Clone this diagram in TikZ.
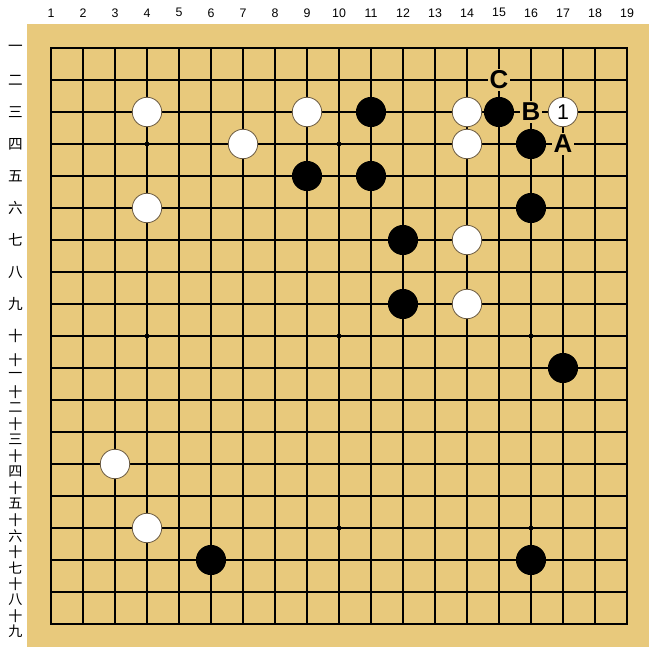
\documentclass[tikz,border=0pt]{standalone}
\usepackage{fontspec}
\setmainfont{Liberation Sans}
\newfontfamily\cjk{Noto Sans CJK SC}
\definecolor{board}{RGB}{232,201,124}
\definecolor{rim}{RGB}{105,88,62}
\tikzset{
  white stone/.style={circle,draw=rim,fill=white,line width=0.7pt,minimum size=0.92cm,inner sep=0pt,font=\fontsize{19}{19}\selectfont},
  black stone/.style={circle,fill=black,minimum size=0.94cm,inner sep=0pt},
  hoshi/.style={circle,fill=black,minimum size=0.15cm,inner sep=0pt},
  letter/.style={fill=board,inner sep=1.5pt,font=\bfseries\fontsize{23}{23}\selectfont},
  collabel/.style={font=\fontsize{11}{11}\selectfont},
  rowlabel/.style={font=\cjk\fontsize{13}{13}\selectfont},
  tenlabel/.style={font=\cjk\fontsize{12.5}{12.5}\selectfont,inner sep=0pt}
}
\begin{document}
\begin{tikzpicture}[x=1cm,y=-1cm]
\useasboundingbox (-0.59375,-0.5) rectangle (19.9375,19.84375);
\fill[board] (0.25,0.25) rectangle (19.6875,19.71875);

% grid
\foreach \i in {1,...,19} {
  \draw[line width=0.9pt] (\i,1) -- (\i,19);
  \draw[line width=0.9pt] (1,\i) -- (19,\i);
}
\draw[line width=2.6pt] (1,1) rectangle (19,19);

% star points
\foreach \x/\y in {4/4,10/4,16/4,4/10,10/10,16/10,4/16,10/16,16/16}
  \node[hoshi] (h\x-\y) at (\x,\y) {};

% coordinates
\foreach \i in {1,...,19}
  \node[collabel] (c\i) at (\i,-0.1) {\i};
\foreach \n [count=\j] in {一,二,三,四,五,六,七,八,九,十}
  \node[rowlabel] (r\j) at (-0.11,\j) {\n};
\foreach \n [count=\k from 11] in {一,二,三,四,五,六,七,八,九} {
  \node[tenlabel] (r\k a) at (-0.11,\k-0.26) {十};
  \node[tenlabel] (r\k b) at (-0.11,\k+0.24) {\n};
}

% stones
\foreach \x/\y in {4/3,9/3,14/3,7/4,14/4,4/6,14/7,14/9,3/14,4/16}
  \node[white stone] (w\x-\y) at (\x,\y) {};
\foreach \x/\y in {11/3,15/3,16/4,9/5,11/5,16/6,12/7,12/9,17/11,6/17,16/17}
  \node[black stone] (b\x-\y) at (\x,\y) {};
\node[white stone] (w17-3) at (17,3) {1};

% marks
\node[letter] (C) at (15,2) {C};
\node[letter] (B) at (16,3) {B};
\node[letter] (A) at (17,4) {A};
\end{tikzpicture}
\end{document}
